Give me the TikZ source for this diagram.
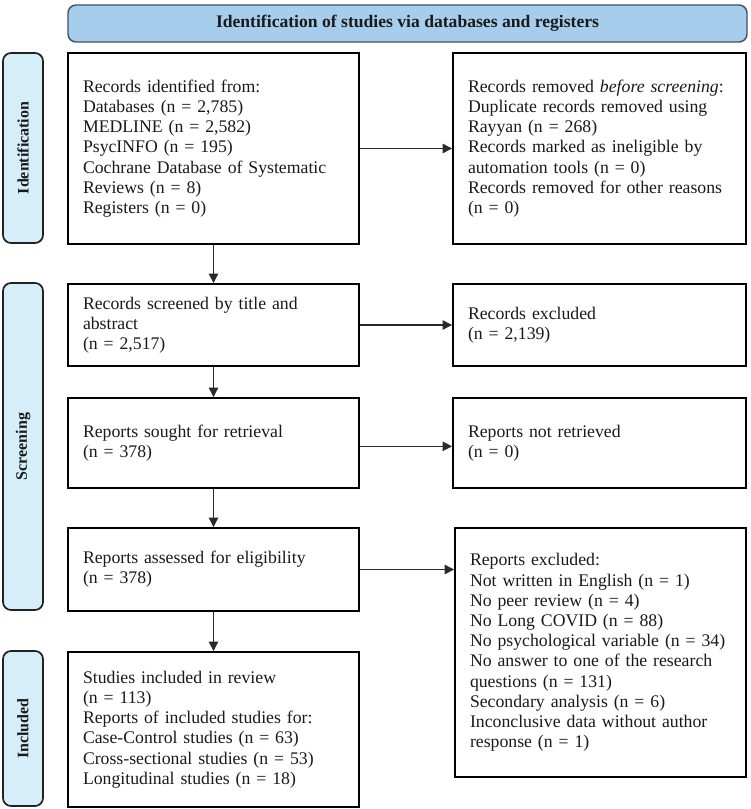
\documentclass[tikz,border=0pt]{standalone}
\usepackage{fontspec}
\setmainfont{Liberation Serif}
\usetikzlibrary{arrows.meta}
\definecolor{hdrfill}{HTML}{A6CEEC}
\definecolor{hdrdraw}{HTML}{44525F}
\definecolor{sidefill}{HTML}{D5EEFA}
\definecolor{sidedraw}{HTML}{222222}
\definecolor{txtcol}{HTML}{1A1A1A}
\definecolor{arrcol}{HTML}{2A2A2A}
\newcommand{\pfbody}{\fontsize{13.3}{15.15}\selectfont}
\begin{document}
\begin{tikzpicture}[x=0.75pt,y=-0.75pt,
  flowbox/.style={draw=black, line width=1.4pt, fill=white, inner xsep=11.25pt,
    inner ysep=0pt, align=left, font=\pfbody, text=txtcol, anchor=center},
  leftbox/.style={flowbox, minimum width=218.25pt, text width=195.75pt},
  rightbox/.style={flowbox, minimum width=219.75pt, text width=197.25pt},
  header/.style={draw=hdrdraw, line width=1.1pt, fill=hdrfill, rounded corners=6pt,
    minimum width=509.25pt, minimum height=27.75pt, inner sep=0pt,
    font=\fontsize{13.2}{15}\selectfont\bfseries, text=txtcol},
  sidebar/.style={draw=sidedraw, line width=1.3pt, fill=sidefill, rounded corners=6pt,
    rotate=90, minimum height=30pt, inner sep=0pt,
    font=\fontsize{12}{14}\selectfont\bfseries, text=txtcol},
  flowarrow/.style={draw=arrcol, line width=0.8pt, -{Triangle[length=7pt,width=7pt]}}
]
\useasboundingbox (0,0) rectangle (750,809);

% header
\node[header] (hdr) at (407.5,23.5) {Identification of studies via databases and registers};

% side bars
\node[sidebar, minimum width=142.5pt] (sid) at (23,148) {Identification};
\node[sidebar, minimum width=245.25pt] (sscr) at (23,446.5) {Screening};
\node[sidebar, minimum width=116.25pt] (sinc) at (23,728.5) {Included};

% left column
\node[leftbox, minimum height=143.25pt] (ident) at (213.5,148.5) {Records identified from:\\
Databases (n = 2,785)\\
MEDLINE (n = 2,582)\\
PsycINFO (n = 195)\\
Cochrane Database of Systematic\\
Reviews (n = 8)\\
Registers (n = 0)};

\node[leftbox, minimum height=61.5pt] (scr) at (213.5,325) {Records screened by title and\\
abstract\\
(n = 2,517)};

\node[leftbox, minimum height=67.5pt] (sought) at (213.5,443) {Reports sought for retrieval\\
(n = 378)};

\node[leftbox, minimum height=62.25pt] (assess) at (213.5,569.5) {Reports assessed for eligibility\\
(n = 378)};

\node[leftbox, minimum height=116.25pt] (incl) at (213.5,729.5) {Studies included in review\\
(n = 113)\\
Reports of included studies for:\\
Case-Control studies (n = 63)\\
Cross-sectional studies (n = 53)\\
Longitudinal studies (n = 18)};

% right column
\node[rightbox, minimum height=143.25pt] (removed) at (599.5,148.5) {Records removed \textit{before screening}:\\
Duplicate records removed using\\
Rayyan (n = 268)\\
Records marked as ineligible by\\
automation tools (n = 0)\\
Records removed for other reasons\\
(n = 0)};

\node[rightbox, minimum height=61.5pt] (excl) at (599.5,325) {Records excluded\\
(n = 2,139)};

\node[rightbox, minimum height=67.5pt] (notret) at (599.5,443) {Reports not retrieved\\
(n = 0)};

\node[leftbox, minimum height=186.75pt] (repexc) at (600.5,652.5) {Reports excluded:\\
Not written in English (n = 1)\\
No peer review (n = 4)\\
No Long COVID (n = 88)\\
No psychological variable (n = 34)\\
No answer to one of the research\\
questions (n = 131)\\
Secondary analysis (n = 6)\\
Inconclusive data without author\\
response (n = 1)};

% vertical arrows
\draw[flowarrow] (ident) -- (scr);
\draw[flowarrow] (scr) -- (sought);
\draw[flowarrow] (sought) -- (assess);
\draw[flowarrow] (assess) -- (incl);

% horizontal arrows
\draw[flowarrow] (ident.east) -- (removed.west);
\draw[flowarrow] (scr.east) -- (excl.west);
\draw[flowarrow] ([yshift=-2.5pt]sought.east) -- ([yshift=-2.5pt]notret.west);
\draw[flowarrow] (assess.east) -- (assess.east -| repexc.west);
\end{tikzpicture}
\end{document}
